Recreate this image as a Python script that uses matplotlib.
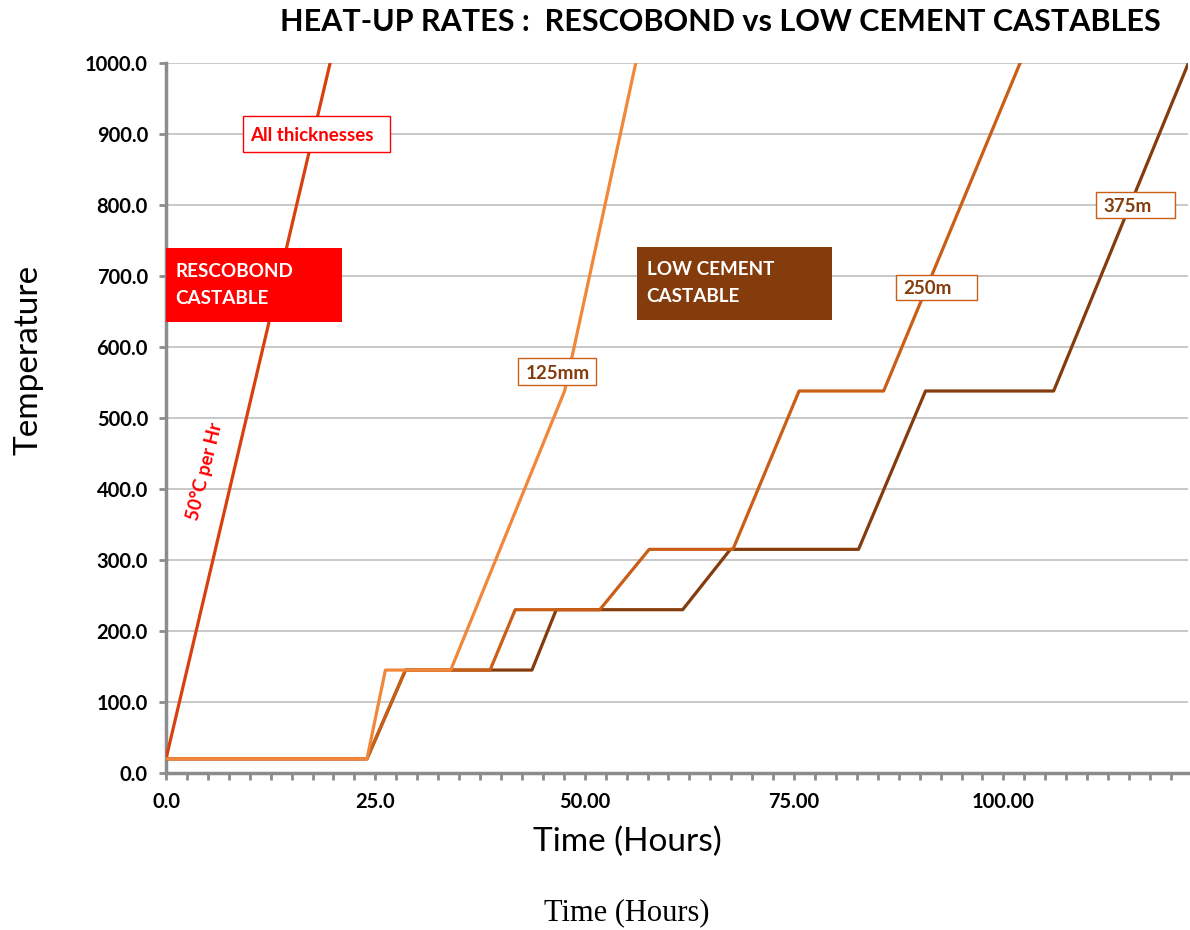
import matplotlib.pyplot as plt
from matplotlib.patches import Rectangle
from matplotlib.ticker import MultipleLocator

plt.rcParams['font.family'] = ['Lato', 'DejaVu Sans']

# Dados (horas, °C)
resco_t = [0, 19.6]
resco_T = [20, 1000]

t_125 = [0, 24, 26.2, 34.0, 47.6, 56.1]
T_125 = [20, 20, 145, 145, 538, 1000]

t_250 = [0, 24, 28.6, 38.7, 41.7, 51.8, 57.7, 67.7, 75.6, 85.7, 102.0]
T_250 = [20, 20, 145, 145, 230, 230, 315, 315, 538, 538, 1000]

t_375 = [0, 24, 28.6, 43.7, 46.6, 61.7, 67.4, 82.7, 90.7, 106.0, 122.1]
T_375 = [20, 20, 145, 145, 230, 230, 315, 315, 538, 538, 1000]

x_ticks = [0, 25, 50, 75, 100]
x_labels = ["0.0", "25.0", "50.00", "75.00", "100.00"]
y_ticks = list(range(0, 1001, 100))
y_labels = [f"{v:.1f}" for v in y_ticks]

c_resco = "#D9400F"
c_125 = "#F0873A"
c_250 = "#C95E16"
c_375 = "#843C0C"

fig = plt.figure(figsize=(11.9, 9.3), dpi=100)
ax = fig.add_axes([0.1395, 0.1688, 0.8585, 0.7635])

ax.plot(resco_t, resco_T, color=c_resco, lw=2.3, zorder=3)
ax.plot(t_375, T_375, color=c_375, lw=2.3, zorder=3)
ax.plot(t_250, T_250, color=c_250, lw=2.3, zorder=4)
ax.plot(t_125, T_125, color=c_125, lw=2.3, zorder=5)

ax.set_xlim(0, 122)
ax.set_ylim(0, 1000)
ax.set_xticks(x_ticks)
ax.set_xticklabels(x_labels, fontsize=14.5, fontweight="bold")
ax.xaxis.set_minor_locator(MultipleLocator(2.5))
ax.set_yticks(y_ticks)
ax.set_yticklabels(y_labels, fontsize=14.5, fontweight="bold")
ax.tick_params(axis="both", which="both", direction="out", length=5, width=2, color="#8C8C8C")
ax.tick_params(axis="x", pad=9)
ax.tick_params(axis="y", pad=8)

ax.grid(axis="y", color="#BFBFBF", lw=1.2, zorder=0)
for s in ["top", "right"]:
    ax.spines[s].set_visible(False)
for s in ["left", "bottom"]:
    ax.spines[s].set_color("#8C8C8C")
    ax.spines[s].set_linewidth(2.5)

ax.set_ylabel("Temperature", fontsize=24)
ax.yaxis.set_label_coords(-0.12, 0.582)
ax.set_xlabel("Time (Hours)", fontsize=24)
ax.xaxis.set_label_coords(0.452, -0.097)
ax.xaxis.label.set_va("center")

fig.text(0.605, 0.976, "HEAT-UP RATES :  RESCOBOND vs LOW CEMENT CASTABLES",
         fontsize=22, fontweight="bold", ha="center", va="center")
fig.text(0.527, 0.019, "Time (Hours)", fontsize=22, ha="center", va="center",
         family=["Liberation Serif", "DejaVu Serif"])

# Caixas coloridas
ax.add_patch(Rectangle((0, 635), 21.0, 104, facecolor="#FF0000", edgecolor="none", zorder=6))
ax.text(1.1, 687, "RESCOBOND\nCASTABLE", color="white", fontsize=13.6, fontweight="bold",
        va="center", ha="left", linespacing=1.7, zorder=7)
ax.add_patch(Rectangle((56.3, 637.6), 23.2, 102.8, facecolor=c_375, edgecolor="none", zorder=6))
ax.text(57.4, 690, "LOW CEMENT\nCASTABLE", color="white", fontsize=13.6, fontweight="bold",
        va="center", ha="left", linespacing=1.7, zorder=7)

# Rótulos das curvas
labels = [
    (9.2, 875, 17.6, 50, "All thicknesses", "#FF0000", "#FF0000"),
    (42.0, 546, 9.4, 38, "125mm", c_375, c_250),
    (87.2, 666, 9.6, 35, "250m", c_375, c_250),
    (111.1, 781, 9.4, 37, "375m", c_375, c_250),
]
for x0, y0, w, h, txt, tc, ec in labels:
    ax.add_patch(Rectangle((x0, y0), w, h, facecolor="white", edgecolor=ec, lw=1, zorder=6))
    ax.text(x0 + 0.9, y0 + h * 0.45, txt, color=tc, fontsize=13.5, fontweight="bold",
            va="center", ha="left", zorder=7)

ax.text(4.6, 425, "50°C per Hr", color="#FF0000", fontsize=13.5, fontweight="bold",
        rotation=76, rotation_mode="anchor", ha="center", va="center", zorder=7)

fig.savefig("out.png", dpi=100)
